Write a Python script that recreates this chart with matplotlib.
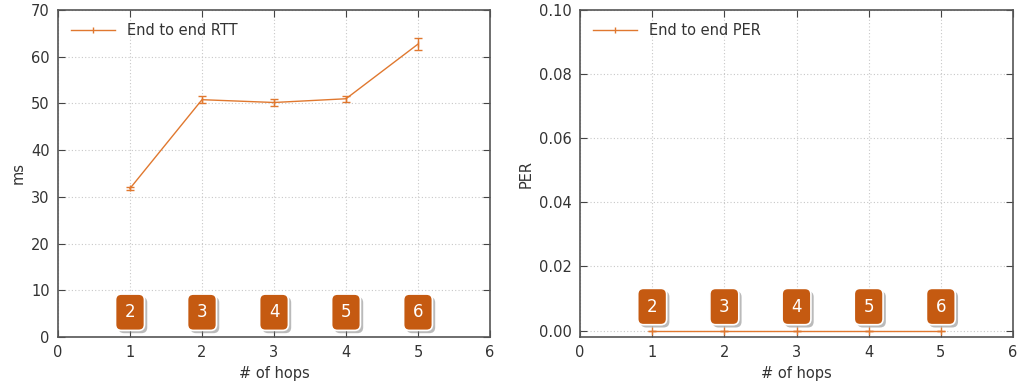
import numpy as np
import matplotlib.pyplot as plt
from matplotlib.lines import Line2D
import matplotlib.patheffects as pe

# datos
hops = [1, 2, 3, 4, 5]
nodes = ['2', '3', '4', '5', '6']
rtt = [31.8, 50.8, 50.2, 51.0, 62.7]
rtt_err = [0.3, 0.7, 0.8, 0.6, 1.2]
per = [0, 0, 0, 0, 0]
per_err = [0, 0, 0, 0, 0]

orange = '#e0782f'
badge = '#c55a11'

fig = plt.figure(figsize=(10.24, 3.89), dpi=100)
ax1 = fig.add_axes([58/1024, 1-337/389, 432/1024, 327/389])
ax2 = fig.add_axes([580/1024, 1-337/389, 433/1024, 327/389])


def estilo(ax):
    ax.set_xlim(0, 6)
    ax.grid(True, linestyle=(0, (1, 2)), color='#c8c8c8', linewidth=0.8)
    ax.tick_params(direction='in', top=True, right=True, length=5, colors='#444444',
                   labelcolor='#333333', labelsize=10.5, pad=6)
    for s in ax.spines.values():
        s.set_color('#555555')
        s.set_linewidth(1.2)
    ax.set_xlabel('# of hops', color='#333333', fontsize=10.5)


def badges(ax, y):
    for x, t in zip(hops, nodes):
        txt = ax.text(x, y, t, ha='center', va='center', fontsize=12, color='white',
                      bbox=dict(boxstyle='round,pad=0.55,rounding_size=0.35', fc=badge,
                                ec='white', lw=1.2), zorder=5)
        txt.get_bbox_patch().set_path_effects(
            [pe.SimplePatchShadow(offset=(2, -2), shadow_rgbFace='#777777', alpha=0.5),
             pe.Normal()])


def leyenda(ax, texto):
    h = Line2D([], [], color=orange, lw=1, marker='|', markersize=5)
    ax.legend([h], [texto], loc='upper left', frameon=False, fontsize=10.5,
              labelcolor='#333333', handlelength=3)


estilo(ax1)
ax1.errorbar(hops, rtt, yerr=rtt_err, color=orange, lw=1, capsize=3,
             marker='|', markersize=5)
ax1.set_ylim(0, 70)
ax1.set_ylabel('ms', color='#333333', fontsize=10.5)
leyenda(ax1, 'End to end RTT')
badges(ax1, 5.3)

estilo(ax2)
ax2.errorbar(hops, per, yerr=per_err, color=orange, lw=1, capsize=3,
             marker='|', markersize=6)
ax2.set_ylim(-0.002, 0.1)
ax2.set_yticks(np.arange(0, 0.101, 0.02))
ax2.set_yticklabels(['%.2f' % v for v in np.arange(0, 0.101, 0.02)])
ax2.set_ylabel('PER', color='#333333', fontsize=10.5)
leyenda(ax2, 'End to end PER')
badges(ax2, 0.0075)

fig.savefig('out.png', dpi=100)
